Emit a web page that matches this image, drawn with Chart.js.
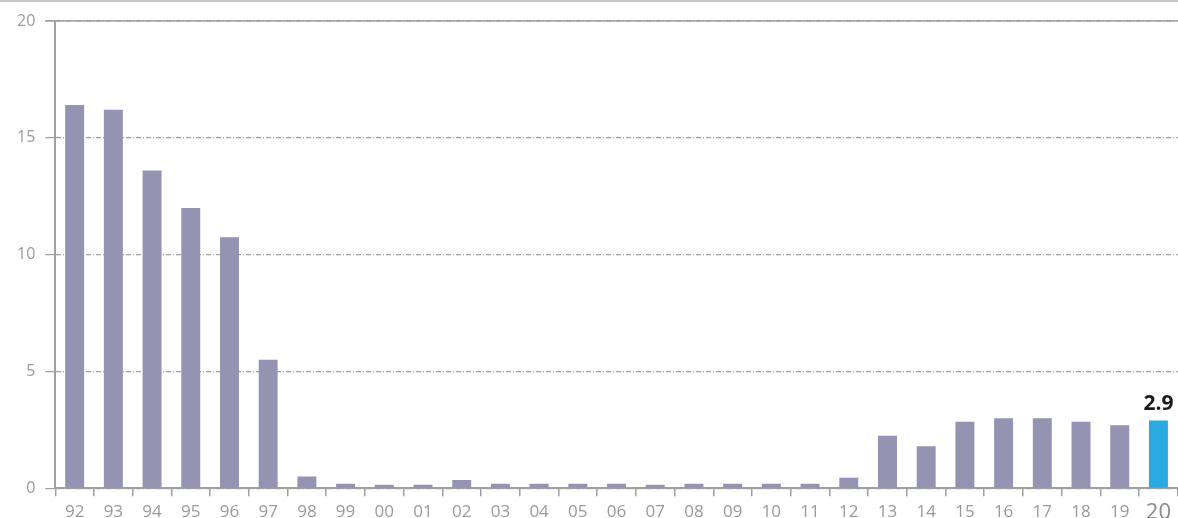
<!DOCTYPE html>
<html>
<head>
<meta charset="utf-8">
<script src="https://cdn.jsdelivr.net/npm/chart.js@4/dist/chart.umd.min.js"></script>
<style>
  html, body { margin: 0; padding: 0; background: #fff; }
  #wrap { width: 1178px; height: 518px; position: relative; }
</style>
</head>
<body>
<div id="wrap"><canvas id="barChart"></canvas></div>
<script>
// chart data
const years = ['92','93','94','95','96','97','98','99','00','01','02','03','04','05','06','07','08','09','10','11','12','13','14','15','16','17','18','19','20'];
const values = [16.4,16.2,13.6,12.0,10.75,5.5,0.5,0.2,0.15,0.15,0.35,0.2,0.2,0.2,0.2,0.15,0.2,0.2,0.2,0.2,0.45,2.25,1.8,2.85,3.0,3.0,2.85,2.7,2.9];
const yTicks = [0, 5, 10, 15, 20];
const lastLabel = '2.9';

const lastIdx = years.length - 1;
const barColors = years.map((y, i) => i === lastIdx ? '#29abe2' : '#9593b2');

// solid top gridline + thin frame line at the very top, and the value label
const extras = {
    id: 'extras',
    afterDraw(chart) {
        const {ctx, chartArea, scales} = chart;
        ctx.save();
        ctx.strokeStyle = '#c8c8c8';
        ctx.lineWidth = 2;
        ctx.beginPath();
        ctx.moveTo(0, 1);
        ctx.lineTo(chart.width, 1);
        ctx.stroke();

        const yTop = scales.y.getPixelForValue(20);
        ctx.strokeStyle = '#a0a0a0';
        ctx.lineWidth = 1.5;
        ctx.beginPath();
        ctx.moveTo(chartArea.left - 10, yTop);
        ctx.lineTo(chartArea.right, yTop);
        ctx.stroke();

        const meta = chart.getDatasetMeta(0);
        const bar = meta.data[lastIdx];
        ctx.fillStyle = '#1a1a1a';
        ctx.font = 'bold 21px "Open Sans"';
        ctx.textAlign = 'center';
        ctx.textBaseline = 'bottom';
        ctx.fillText(lastLabel, bar.x, bar.y - 6);
        ctx.restore();
    }
};

new Chart(document.getElementById('barChart'), {
    type: 'bar',
    data: {
        labels: years,
        datasets: [{
            data: values,
            backgroundColor: barColors,
            barPercentage: 0.49,
            categoryPercentage: 1.0
        }]
    },
    options: {
        responsive: true,
        maintainAspectRatio: false,
        animation: false,
        layout: {padding: {top: 21, right: 0, left: 7, bottom: -11}},
        plugins: {legend: {display: false}, tooltip: {enabled: false}},
        scales: {
            x: {
                offset: true,
                grid: {
                    offset: true,
                    drawOnChartArea: false,
                    drawTicks: true,
                    tickLength: 8,
                    color: '#a0a0a0',
                    lineWidth: 1.5
                },
                border: {display: true, color: '#a0a0a0', width: 2},
                ticks: {
                    padding: 7,
                    maxRotation: 0,
                    autoSkip: false,
                    color: ctx => ctx.index === lastIdx ? '#8a8a8a' : '#9a9a9a',
                    font: ctx => ctx.index === lastIdx
                        ? {family: '"Open Sans"', size: 22, lineHeight: 0.85}
                        : {family: '"Open Sans"', size: 17, lineHeight: 1}
                }
            },
            y: {
                min: 0,
                max: 20,
                afterBuildTicks: axis => { axis.ticks = yTicks.map(v => ({value: v})); },
                grid: {
                    color: '#a0a0a0',
                    lineWidth: 1.2,
                    tickLength: 10,
                    drawTicks: true
                },
                border: {display: true, color: '#a0a0a0', width: 2, dash: [5, 2, 1, 2]},
                ticks: {
                    padding: 10,
                    color: '#9a9a9a',
                    font: {family: '"Open Sans"', size: 16}
                }
            }
        }
    },
    plugins: [extras]
});
</script>
</body>
</html>
